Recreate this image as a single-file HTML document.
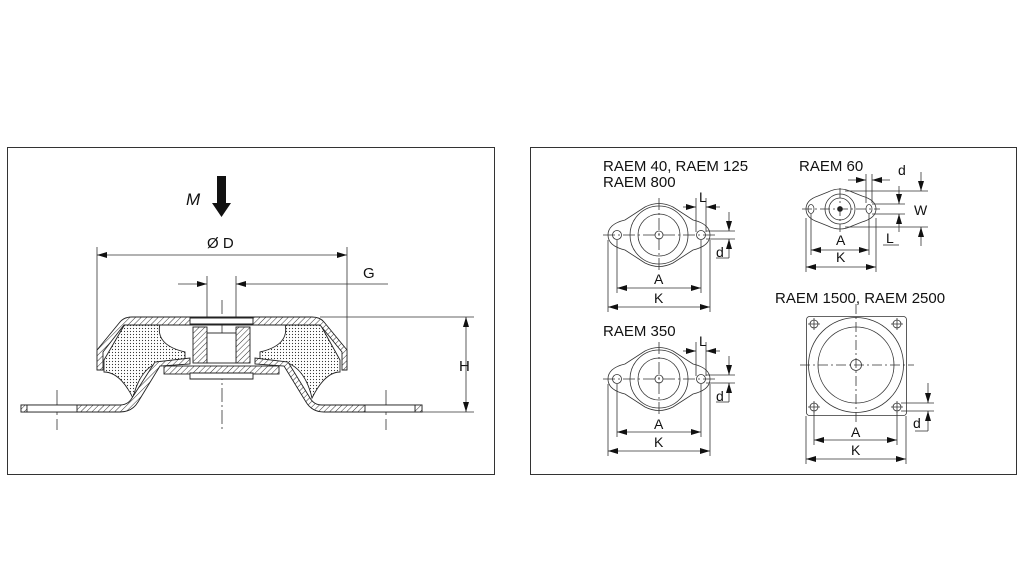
<!DOCTYPE html>
<html><head><meta charset="utf-8"><style>
html,body{margin:0;padding:0;background:#fff;width:1024px;height:575px;overflow:hidden}
svg text{font-family:"Liberation Sans",sans-serif;fill:#111}
</style></head><body>
<svg width="1024" height="575" viewBox="0 0 1024 575" xmlns="http://www.w3.org/2000/svg">
<defs>
<pattern id="h" width="4" height="4" patternUnits="userSpaceOnUse" patternTransform="rotate(45)"><rect width="4" height="4" fill="#fff"/><line x1="0" y1="0" x2="0" y2="4" stroke="#333" stroke-width="1"/></pattern>
<pattern id="dt" width="3" height="3" patternUnits="userSpaceOnUse"><rect width="3" height="3" fill="#fff"/><circle cx="1.5" cy="1.5" r="0.6" fill="#333"/></pattern>
<marker id="a" viewBox="0 0 10 6" refX="10" refY="3" markerWidth="10" markerHeight="6" orient="auto-start-reverse" markerUnits="userSpaceOnUse"><path d="M0,0L10,3L0,6z" fill="#111"/></marker>
</defs>
<g fill="none" stroke="#333" stroke-width="1">
<rect x="7.5" y="147.5" width="487" height="327"/>
<rect x="530.5" y="147.5" width="486" height="327"/>
</g>
<!-- LEFT -->
<text x="186" y="205" font-size="17" font-style="italic">M</text>
<path d="M217,176h9v27h5l-9.5,14l-9.5,-14h5z" fill="#111"/>
<text x="207" y="248" font-size="15">Ø D</text>
<text x="363" y="278" font-size="15">G</text>
<text x="459" y="371" font-size="15">H</text>
<g stroke="#333" stroke-width="0.8" fill="none">
<line x1="97" y1="247" x2="97" y2="370"/><line x1="347" y1="247" x2="347" y2="370"/>
<line x1="97" y1="255" x2="347" y2="255" marker-start="url(#a)" marker-end="url(#a)"/>
<line x1="207" y1="276" x2="207" y2="318"/><line x1="236" y1="276" x2="236" y2="318"/>
<line x1="178" y1="284" x2="207" y2="284" marker-end="url(#a)"/>
<line x1="388" y1="284" x2="236" y2="284" marker-end="url(#a)"/>
<line x1="320" y1="317" x2="474" y2="317"/><line x1="422" y1="412" x2="474" y2="412"/>
<line x1="466" y1="317" x2="466" y2="412" marker-start="url(#a)" marker-end="url(#a)"/>
<line x1="222" y1="300" x2="222" y2="430" stroke-dasharray="14,3,2,3"/>
<line x1="57" y1="390" x2="57" y2="430" stroke-dasharray="18,4,3,4"/>
<line x1="386" y1="390" x2="386" y2="430" stroke-dasharray="18,4,3,4"/>
</g>
<g stroke="#222" stroke-width="0.9">
<path d="M104,360 L125,324 L160,324 Q155,345 185,352 L185,362 L160,362 Q140,368 133,398 Q120,372 104,372z" fill="url(#dt)"/>
<path d="M340,360 L320,324 L285,324 Q290,345 260,352 L260,362 L285,362 Q305,368 312,398 Q325,372 340,372z" fill="url(#dt)"/>
<path d="M97,370 L97,350 L120,322 Q124,317 132,317 L312,317 Q320,317 324,322 L347,350 L347,370 L342,370 L342,352 L320,325 L124,325 L103,352 L103,370z" fill="url(#h)"/>
<path d="M21,405 L120,405 Q128,405 132,398 L155,362 L190,358 L190,364 L160,366 L138,402 Q132,412 120,412 L21,412z" fill="url(#h)"/>
<path d="M422,405 L322,405 Q314,405 310,398 L288,362 L255,358 L255,364 L284,366 L306,402 Q312,412 324,412 L422,412z" fill="url(#h)"/>
<rect x="21" y="405" width="6" height="7" fill="url(#h)"/>
<rect x="415" y="405" width="7" height="7" fill="url(#h)"/>
<rect x="27" y="405" width="50" height="7" fill="#fff"/>
<rect x="365" y="405" width="50" height="7" fill="#fff"/>
<rect x="164" y="366" width="115" height="8" fill="url(#h)"/>
<rect x="193" y="327" width="14" height="36" fill="url(#h)"/>
<rect x="236" y="327" width="14" height="36" fill="url(#h)"/>
<rect x="207" y="333" width="29" height="30" fill="#fff"/>
<path d="M190,318 h63 v6 h-63z M190,373 h63 v6 h-63z" fill="#fff"/>
</g>
<!-- RIGHT -->
<g font-size="15">
<text x="603" y="171">RAEM 40, RAEM 125</text>
<text x="603" y="187">RAEM 800</text>
<text x="603" y="336">RAEM 350</text>
<text x="799" y="171">RAEM 60</text>
<text x="775" y="303">RAEM 1500, RAEM 2500</text>
<g font-size="14">
<text x="654" y="284">A</text><text x="654" y="303">K</text>
<text x="654" y="429">A</text><text x="654" y="447">K</text>
<text x="699" y="202">L</text><text x="699" y="346">L</text>
<text x="716" y="257">d</text><text x="716" y="401">d</text>
<text x="836" y="245">A</text><text x="836" y="262">K</text>
<text x="898" y="175">d</text><text x="914" y="215">W</text><text x="886" y="243">L</text>
<text x="851" y="437">A</text><text x="851" y="455">K</text>
<text x="913" y="428">d</text>
</g>
</g>
<g stroke="#333" stroke-width="0.8" fill="none">
<g id="d1">
<path d="M608,235 Q608,224 625,220 L645,207 Q659,200 673,207 L693,220 Q710,224 710,235 Q710,246 693,250 L673,263 Q659,270 645,263 L625,250 Q608,246 608,235z"/>
<circle cx="659" cy="235" r="29"/><circle cx="659" cy="235" r="21"/><circle cx="659" cy="235" r="4"/>
<circle cx="617" cy="235" r="4.5"/><circle cx="701" cy="235" r="4.5"/>
<line x1="603" y1="235" x2="715" y2="235" stroke-dasharray="12,3,2,3"/>
<line x1="659" y1="198" x2="659" y2="272" stroke-dasharray="12,3,2,3"/>
<line x1="617" y1="240" x2="617" y2="293"/><line x1="701" y1="240" x2="701" y2="293"/>
<line x1="608" y1="240" x2="608" y2="312"/><line x1="710" y1="240" x2="710" y2="312"/>
<line x1="617" y1="288" x2="701" y2="288" marker-start="url(#a)" marker-end="url(#a)"/>
<line x1="608" y1="307" x2="710" y2="307" marker-start="url(#a)" marker-end="url(#a)"/>
<line x1="696" y1="198" x2="696" y2="232"/><line x1="706" y1="198" x2="706" y2="232"/>
<line x1="683" y1="207" x2="696" y2="207" marker-end="url(#a)"/>
<line x1="720" y1="207" x2="706" y2="207" marker-end="url(#a)"/>
<line x1="706" y1="231" x2="735" y2="231"/><line x1="706" y1="239" x2="735" y2="239"/>
<line x1="729" y1="212" x2="729" y2="231" marker-end="url(#a)"/>
<line x1="729" y1="258" x2="729" y2="239" marker-end="url(#a)"/>
<line x1="716" y1="258" x2="729" y2="258"/>
</g>
<use href="#d1" transform="translate(0,144)"/>
<path d="M806,209 Q806,200 818,196 L828,192 Q840,186 852,192 L862,196 Q876,200 876,209 Q876,218 862,222 L852,226 Q840,232 828,226 L818,222 Q806,218 806,209z"/>
<circle cx="840" cy="209" r="15"/><circle cx="840" cy="209" r="11"/><circle cx="840" cy="209" r="2.5" fill="#111"/>
<ellipse cx="811" cy="209" rx="3" ry="4.5"/><ellipse cx="869" cy="209" rx="3" ry="4.5"/>
<line x1="802" y1="209" x2="880" y2="209" stroke-dasharray="10,3,2,3"/>
<line x1="840" y1="188" x2="840" y2="232" stroke-dasharray="10,3,2,3"/>
<line x1="811" y1="214" x2="811" y2="255"/><line x1="869" y1="214" x2="869" y2="255"/>
<line x1="806" y1="218" x2="806" y2="272"/><line x1="876" y1="218" x2="876" y2="272"/>
<line x1="811" y1="250" x2="869" y2="250" marker-start="url(#a)" marker-end="url(#a)"/>
<line x1="806" y1="267" x2="876" y2="267" marker-start="url(#a)" marker-end="url(#a)"/>
<line x1="866" y1="174" x2="866" y2="203"/><line x1="872" y1="174" x2="872" y2="203"/>
<line x1="848" y1="180" x2="866" y2="180" marker-end="url(#a)"/>
<line x1="890" y1="180" x2="872" y2="180" marker-end="url(#a)"/>
<line x1="845" y1="191" x2="928" y2="191"/><line x1="845" y1="227" x2="928" y2="227"/>
<line x1="872" y1="204" x2="905" y2="204"/><line x1="872" y1="214" x2="905" y2="214"/>
<line x1="921" y1="172" x2="921" y2="191" marker-end="url(#a)"/>
<line x1="921" y1="246" x2="921" y2="227" marker-end="url(#a)"/>
<line x1="899" y1="186" x2="899" y2="204" marker-end="url(#a)"/>
<line x1="899" y1="232" x2="899" y2="214" marker-end="url(#a)"/>
<line x1="883" y1="245" x2="899" y2="245"/>
<rect x="806.5" y="316.5" width="100" height="99" rx="3"/>
<circle cx="856" cy="365" r="47.5"/><circle cx="856" cy="365" r="38"/><circle cx="856" cy="365" r="5.5"/>
<line x1="800" y1="365" x2="914" y2="365" stroke-dasharray="10,3,2,3"/>
<line x1="856" y1="304" x2="856" y2="425" stroke-dasharray="10,3,2,3"/>
<g><circle cx="814" cy="324" r="4"/><path d="M808,324h12M814,318v12"/>
<circle cx="897" cy="324" r="4"/><path d="M891,324h12M897,318v12"/>
<circle cx="814" cy="407" r="4"/><path d="M808,407h12M814,401v12"/>
<circle cx="897" cy="407" r="4"/><path d="M891,407h12M897,401v12"/></g>
<line x1="814" y1="412" x2="814" y2="445"/><line x1="897" y1="412" x2="897" y2="445"/>
<line x1="806" y1="416" x2="806" y2="464"/><line x1="906" y1="416" x2="906" y2="464"/>
<line x1="814" y1="440" x2="897" y2="440" marker-start="url(#a)" marker-end="url(#a)"/>
<line x1="806" y1="459" x2="906" y2="459" marker-start="url(#a)" marker-end="url(#a)"/>
<line x1="901" y1="403" x2="934" y2="403"/><line x1="901" y1="411" x2="934" y2="411"/>
<line x1="928" y1="383" x2="928" y2="403" marker-end="url(#a)"/>
<line x1="928" y1="431" x2="928" y2="411" marker-end="url(#a)"/>
<line x1="915" y1="431" x2="928" y2="431"/>
</g>
</svg>
</body></html>
